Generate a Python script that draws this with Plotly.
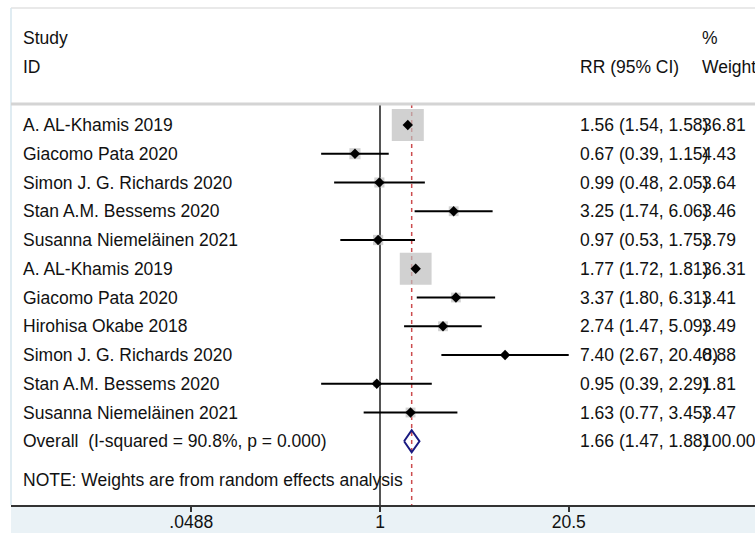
import plotly.graph_objects as go
import math

# ---------------- data ----------------
studies = [
    "A. AL-Khamis 2019",
    "Giacomo Pata 2020",
    "Simon J. G. Richards 2020",
    "Stan A.M. Bessems 2020",
    "Susanna Niemeläinen 2021",
    "A. AL-Khamis 2019",
    "Giacomo Pata 2020",
    "Hirohisa Okabe 2018",
    "Simon J. G. Richards 2020",
    "Stan A.M. Bessems 2020",
    "Susanna Niemeläinen 2021",
]
rr = [1.56, 0.67, 0.99, 3.25, 0.97, 1.77, 3.37, 2.74, 7.40, 0.95, 1.63]
ci_low = [1.54, 0.39, 0.48, 1.74, 0.53, 1.72, 1.80, 1.47, 2.67, 0.39, 0.77]
ci_high = [1.58, 1.15, 2.05, 6.06, 1.75, 1.81, 6.31, 5.09, 20.48, 2.29, 3.45]
weights = [36.81, 4.43, 3.64, 3.46, 3.79, 36.31, 3.41, 3.49, 0.88, 1.81, 3.47]

overall_label = "Overall  (I-squared = 90.8%, p = 0.000)"
overall_rr = 1.66
overall_low = 1.47
overall_high = 1.88
overall_weight = 100.00

tick_vals = [0.0488, 1, 20.5]
tick_text = [".0488", "1", "20.5"]

note_text = "NOTE: Weights are from random effects analysis"

# ---------------- layout helpers ----------------
W, H = 755, 533
ML, MR, MT, MB = 11, 0, 8, 28
plot_w = W - ML - MR
plot_h = H - MT - MB
row_px = 28.75
first_row_px = 125.0


def row_of(px):
    return (px - first_row_px) / row_px


def xpaper(px):
    return (px - ML) / plot_w


FONT = "Liberation Sans, Arial, sans-serif"
FS = 17.5
TXT = "#111111"

rows = list(range(len(studies)))
overall_row = len(studies)

fig = go.Figure()

# boxes (area proportional to weight)
box_sizes = [32 * math.sqrt(w / weights[0]) for w in weights]
fig.add_trace(go.Scatter(
    x=rr, y=rows, mode="markers",
    marker=dict(symbol="square", size=box_sizes, color="#bdbdbd",
                line=dict(width=0)),
    hoverinfo="skip", showlegend=False))

# CI lines
cx, cy = [], []
for lo, hi, r in zip(ci_low, ci_high, rows):
    cx += [lo, hi, None]
    cy += [r, r, None]
fig.add_trace(go.Scatter(
    x=cx, y=cy, mode="lines", line=dict(color="black", width=2),
    hoverinfo="skip", showlegend=False))

# point estimates
fig.add_trace(go.Scatter(
    x=rr, y=rows, mode="markers",
    marker=dict(symbol="diamond", size=8, color="black"),
    hoverinfo="skip", showlegend=False))

# overall diamond
dh = 11 / row_px
fig.add_trace(go.Scatter(
    x=[overall_low, overall_rr, overall_high, overall_rr, overall_low],
    y=[overall_row, overall_row - dh, overall_row, overall_row + dh, overall_row],
    mode="lines", line=dict(color="#1a1a80", width=2),
    hoverinfo="skip", showlegend=False))

shapes = []
y_sep = row_of(104)
y_axis = row_of(MT + plot_h)
# light-blue graph region below the axis
shapes.append(dict(type="rect", xref="paper", yref="paper",
                   x0=0, x1=1, y0=-MB / plot_h, y1=0,
                   fillcolor="#eaf2f6", line=dict(width=0), layer="below"))
# top and left frame lines
shapes.append(dict(type="line", xref="paper", yref="paper", x0=0, x1=1, y0=1, y1=1,
                   line=dict(color="#e2e2e2", width=1.5)))
shapes.append(dict(type="line", xref="paper", yref="paper", x0=0, x1=0, y0=0, y1=1,
                   line=dict(color="#d6e6ee", width=1.5)))
# header separator
shapes.append(dict(type="line", xref="paper", yref="y", x0=0, x1=1, y0=y_sep, y1=y_sep,
                   line=dict(color="#d4d4d4", width=3)))
# null line at 1
shapes.append(dict(type="line", xref="x", yref="y", x0=1, x1=1, y0=y_sep, y1=y_axis,
                   line=dict(color="#555555", width=2), layer="below"))
# overall effect dashed line
shapes.append(dict(type="line", xref="x", yref="y", x0=overall_rr, x1=overall_rr,
                   y0=y_sep, y1=y_axis,
                   line=dict(color="#cc4b4e", width=1.5, dash="4px,4px"), layer="below"))

ann = []


def text(x_px, y_row, s):
    ann.append(dict(x=xpaper(x_px), xref="paper", y=y_row, yref="y", text=s,
                    showarrow=False, xanchor="left", yanchor="middle",
                    font=dict(family=FONT, size=FS, color=TXT)))


x_name, x_ci, x_w = 21, 578, 700
text(x_name, row_of(38), "Study")
text(x_name, row_of(67), "ID")
text(x_w, row_of(38), "%")
text(x_ci, row_of(67), "RR (95% CI)")
text(x_w, row_of(67), "Weight")

for name, r, lo, hi, w, i in zip(studies, rr, ci_low, ci_high, weights, rows):
    text(x_name, i, name)
    text(x_ci, i, f"{r:.2f} ({lo:.2f}, {hi:.2f})")
    text(x_w, i, f"{w:.2f}")

text(x_name, overall_row, overall_label)
text(x_ci, overall_row, f"{overall_rr:.2f} ({overall_low:.2f}, {overall_high:.2f})")
text(x_w, overall_row, f"{overall_weight:.2f}")
text(x_name, row_of(480), note_text)

# x-range: 1 at px 380, 62.5 px per ln unit
px_per_log10 = 62.5 * math.log(10)
x0_log = (ML - 380) / px_per_log10
x1_log = (W - MR - 380) / px_per_log10

fig.update_layout(
    width=W, height=H,
    margin=dict(l=ML, r=MR, t=MT, b=MB, pad=0),
    paper_bgcolor="white", plot_bgcolor="white",
    showlegend=False,
    shapes=shapes, annotations=ann,
    xaxis=dict(type="log", range=[x0_log, x1_log], tickvals=tick_vals,
               ticktext=tick_text, ticks="outside", ticklen=5, tickwidth=1.5,
               ticklabelstandoff=-5,
               tickcolor="#333333", showline=True, linecolor="#333333",
               linewidth=2, showgrid=False, zeroline=False, automargin=False,
               tickfont=dict(family=FONT, size=FS, color=TXT), fixedrange=True),
    yaxis=dict(range=[y_axis, row_of(MT)], visible=False, showgrid=False,
               zeroline=False, fixedrange=True),
)

fig.write_html("out.html")
